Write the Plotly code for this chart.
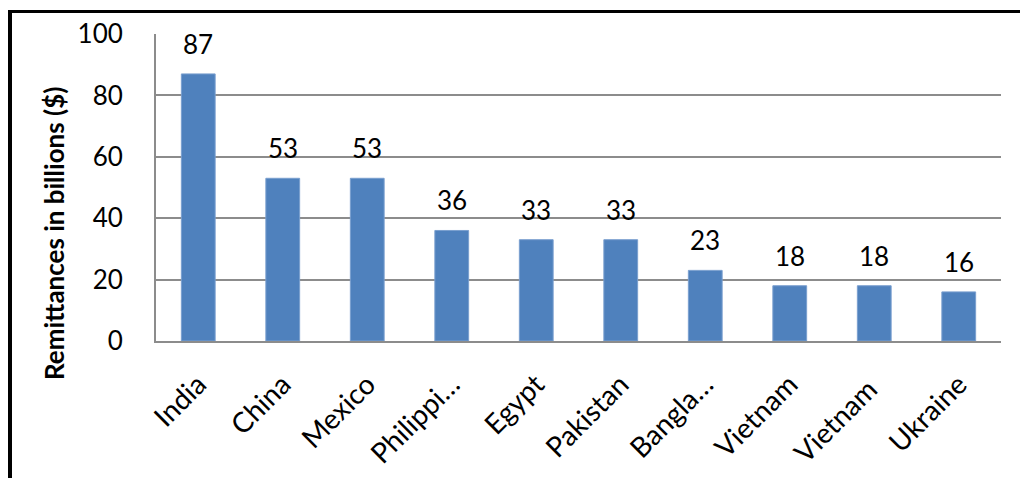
import plotly.graph_objects as go

countries = ["India", "China", "Mexico", "Philippi…", "Egypt", "Pakistan", "Bangla…", "Vietnam", "Vietnam ", "Ukraine"]
remittances = [87, 53, 53, 36, 33, 33, 23, 18, 18, 16]
y_ticks = [0, 20, 40, 60, 80, 100]

W, H = 1020, 478
L, R, T, B = 156, 19, 34, 137
pw, ph = W - L - R, H - T - B

FONT = "Lato"

fig = go.Figure()
fig.add_trace(go.Bar(
    x=countries, y=remittances,
    marker=dict(color="#4F81BD", line=dict(color="#7A9FCF", width=1)),
    width=0.4,
))

for c, v in zip(countries, remittances):
    fig.add_annotation(x=c, y=v, text=str(v), showarrow=False, yshift=30,
                       font=dict(family=FONT, size=26, color="black"))

# y axis title
fig.add_annotation(xref="paper", yref="paper", x=(54 - L) / pw, y=(H - B - 234) / ph,
                   text="<b>Remittances in billions ($)</b>", textangle=-90, showarrow=False,
                   xanchor="center", yanchor="middle",
                   font=dict(family=FONT, size=26, color="black"))

# outer frame (partially clipped by page edges)
fig.add_shape(type="line", xref="paper", yref="paper",
              x0=(10 - L) / pw, x1=(10 - L) / pw, y0=(H - B - 11.5) / ph, y1=(H - B - 500) / ph,
              line=dict(color="black", width=4))
fig.add_shape(type="line", xref="paper", yref="paper",
              x0=(8 - L) / pw, x1=(1040 - L) / pw, y0=(H - B - 11.5) / ph, y1=(H - B - 11.5) / ph,
              line=dict(color="black", width=3))

fig.update_layout(
    width=W, height=H,
    margin=dict(l=L, r=R, t=T, b=B),
    plot_bgcolor="white", paper_bgcolor="white",
    showlegend=False,
    bargap=0.6,
    font=dict(family=FONT, color="black"),
)
fig.update_xaxes(
    tickangle=-45, tickfont=dict(family=FONT, size=28, color="black"),
    showline=True, linecolor="#8c8c8c", linewidth=2,
    ticks="outside", ticklen=0, ticklabelstandoff=14,
    showgrid=False, automargin=False,
)
fig.update_yaxes(
    range=[0, 100], tickvals=y_ticks,
    tickfont=dict(family=FONT, size=26, color="black"),
    showline=True, linecolor="#8c8c8c", linewidth=2,
    showgrid=True, gridcolor="#8c8c8c", gridwidth=1.5,
    ticks="outside", ticklen=0, ticklabelstandoff=26,
    zeroline=False, automargin=False,
)

fig.write_html("out.html")
